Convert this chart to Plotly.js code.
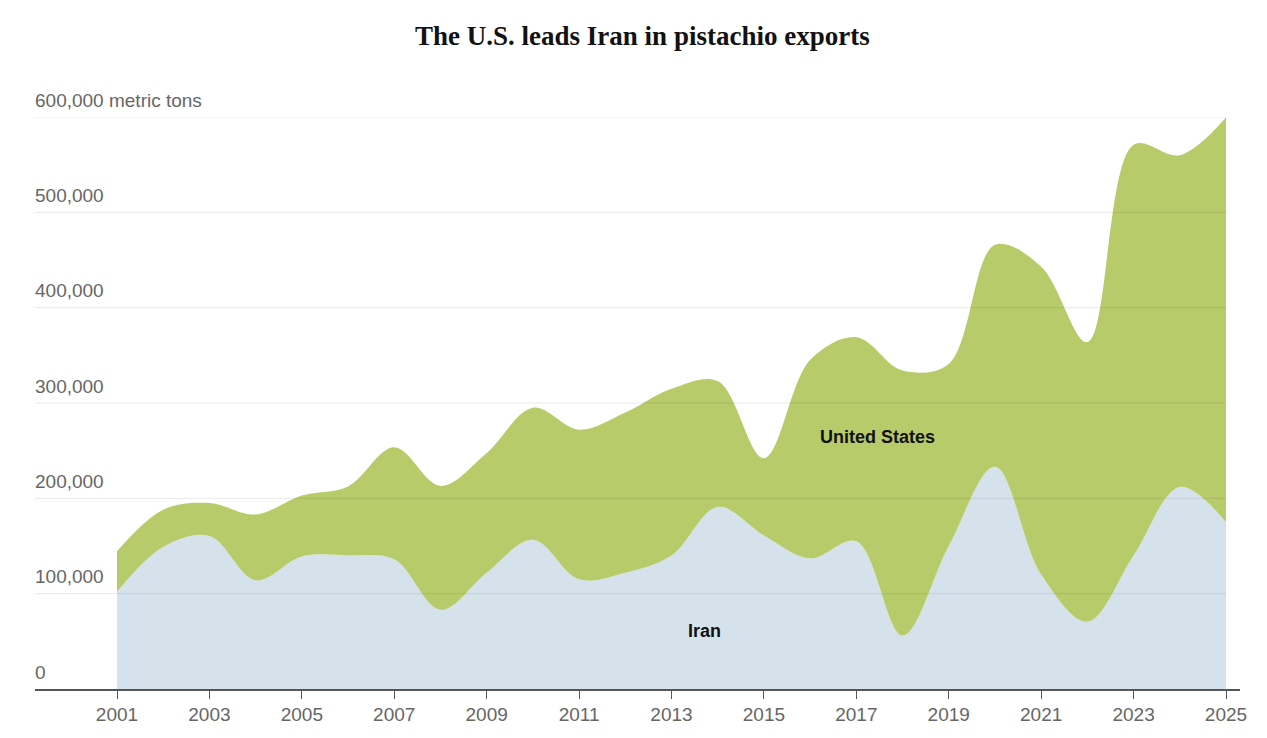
<!DOCTYPE html>
<html>
<head>
<meta charset="utf-8">
<script src="https://cdn.plot.ly/plotly-3.0.1.min.js"></script>
<style>
  html, body { margin: 0; padding: 0; background: #ffffff; }
  #chart { width: 1267px; height: 738px; }
</style>
</head>
<body>
<div id="chart"></div>
<script>
// ---- Data (metric tons) ----
const years = [2001, 2002, 2003, 2004, 2005, 2006, 2007, 2008, 2009, 2010, 2011, 2012, 2013,
               2014, 2015, 2016, 2017, 2018, 2019, 2020, 2021, 2022, 2023, 2024, 2025];
const iranExports = [102000, 149000, 160500, 114000, 139000, 140000, 136000, 83000, 122000, 156500,
                     115000, 122000, 140000, 191000, 161000, 137000, 155000, 56000, 150000, 233000,
                     120000, 70500, 140000, 212000, 175000];
const usExports = [42500, 39000, 34500, 69000, 64000, 72500, 117500, 130000, 125500, 138500,
                   157000, 168000, 175000, 132000, 81000, 208000, 214000, 278000, 191000, 233000,
                   323000, 293500, 431000, 348000, 424500];
const seriesNames = ["Iran", "United States"];
const xTickVals = [2001, 2003, 2005, 2007, 2009, 2011, 2013, 2015, 2017, 2019, 2021, 2023, 2025];
const yTickVals = [0, 100000, 200000, 300000, 400000, 500000, 600000];
const yTickLabels = ["0", "100,000", "200,000", "300,000", "400,000", "500,000", "600,000 metric tons"];
const titleText = "The U.S. leads Iran in pistachio exports";

// ---- Styling ----
const GREEN = "#b8cb6a";
const BLUE = "#d6e2eb";
const xRange = [1999.2254, 2025.303];
const labelFont = "'Liberation Sans', Arial, sans-serif";

const traces = [
  {
    x: years, y: iranExports, name: seriesNames[0],
    type: "scatter", mode: "lines", stackgroup: "one",
    line: { width: 0, shape: "spline", smoothing: 1 },
    fillcolor: BLUE, hoverinfo: "x+y+name"
  },
  {
    x: years, y: usExports, name: seriesNames[1],
    type: "scatter", mode: "lines", stackgroup: "one",
    line: { width: 0, shape: "spline", smoothing: 1 },
    fillcolor: GREEN, hoverinfo: "x+y+name"
  }
];

const lastYear = years[years.length - 1];
const shapes = yTickVals.filter(v => v > 0).map(v => ({
  type: "line", xref: "x", yref: "y",
  x0: xRange[0], x1: lastYear, y0: v, y1: v,
  line: { color: "rgba(0,0,0,0.09)", width: 1 },
  layer: "above"
}));

const annotations = yTickVals.map((v, i) => ({
  xref: "paper", yref: "y", x: 0, y: v,
  xanchor: "left", yanchor: "middle", yshift: 17, xshift: -2,
  text: yTickLabels[i], showarrow: false,
  font: { family: labelFont, size: 19, color: "#666666" }
}));

// Series labels
annotations.push({
  xref: "x", yref: "y", x: 2017.45, y: 264000,
  text: "<b>United States</b>", showarrow: false,
  xanchor: "center", yanchor: "middle",
  font: { family: labelFont, size: 18, color: "#111111" }
});
annotations.push({
  xref: "x", yref: "y", x: 2013.72, y: 61000,
  text: "<b>Iran</b>", showarrow: false,
  xanchor: "center", yanchor: "middle",
  font: { family: labelFont, size: 18, color: "#111111" }
});

const layout = {
  width: 1267, height: 738,
  paper_bgcolor: "#ffffff", plot_bgcolor: "#ffffff",
  margin: { l: 35, r: 27, t: 117, b: 49 },
  showlegend: false,
  title: {
    text: "<b>" + titleText + "</b>",
    x: 0.507, xanchor: "center",
    y: 1 - 36 / 738, yref: "container", yanchor: "middle",
    font: { family: "'Liberation Serif', 'DejaVu Serif', serif", size: 27, color: "#121212" }
  },
  xaxis: {
    range: xRange, fixedrange: true,
    tickmode: "array", tickvals: xTickVals, ticktext: xTickVals.map(String),
    showgrid: false, zeroline: false,
    showline: true, linecolor: "#555555", linewidth: 1.5,
    ticks: "outside", ticklen: 8, tickwidth: 1, tickcolor: "#555555",
    tickfont: { family: labelFont, size: 19, color: "#666666" },
    layer: "above traces"
  },
  yaxis: {
    range: [0, 600000], fixedrange: true,
    showgrid: false, zeroline: false, showline: false,
    showticklabels: false, ticks: ""
  },
  shapes: shapes,
  annotations: annotations
};

Plotly.newPlot("chart", traces, layout, { displayModeBar: false, staticPlot: true });
</script>
</body>
</html>
